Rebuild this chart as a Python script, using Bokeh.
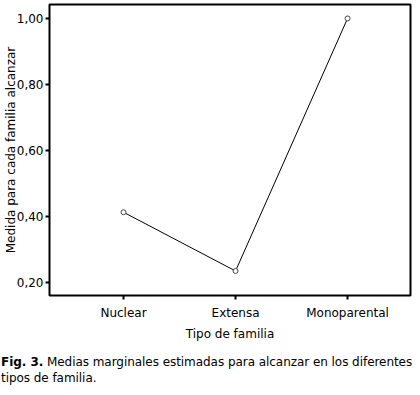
from bokeh.plotting import figure
from bokeh.models import FixedTicker, Range1d, Div
from bokeh.layouts import column
from bokeh.embed import file_html
from bokeh.resources import INLINE

categories = ["Nuclear", "Extensa", "Monoparental"]
means = [0.413, 0.235, 1.0]
y_ticks = [0.2, 0.4, 0.6, 0.8, 1.0]
y_tick_labels = ["0,20", "0,40", "0,60", "0,80", "1,00"]
x_label = "Tipo de familia"
y_label = "Medida para cada familia alcanzar"
caption_bold = "Fig. 3."
caption_line1 = "Medias marginales estimadas para alcanzar en los diferentes"
caption_line2 = "tipos de familia."

FONT = "DejaVu Sans"
xs = list(range(len(categories)))

p = figure(width=412, height=343, output_backend="svg", toolbar_location=None,
           x_range=Range1d(-0.661, 2.562), y_range=Range1d(0.1608, 1.0423),
           min_border_left=49, min_border_right=2, min_border_top=4, min_border_bottom=44)
p.grid.visible = False
p.background_fill_color = "white"
p.border_fill_color = "white"
p.outline_line_color = "black"
p.outline_line_width = 2

p.line(xs, means, line_color="black", line_width=1)
p.scatter(xs, means, size=5, fill_color="white", line_color="#444444", line_width=1)

for ax in (p.xaxis[0], p.yaxis[0]):
    ax.axis_line_color = None
    ax.major_tick_in = 0
    ax.major_tick_out = 4
    ax.major_tick_line_width = 2
    ax.minor_tick_line_color = None
    ax.major_label_text_font = FONT
    ax.major_label_text_font_size = "12px"
    ax.major_label_text_color = "black"
    ax.axis_label_text_font = FONT
    ax.axis_label_text_font_size = "12px"
    ax.axis_label_text_font_style = "normal"
    ax.axis_label_text_color = "black"

p.xaxis.ticker = FixedTicker(ticks=xs)
p.xaxis.major_label_overrides = {x: c for x, c in zip(xs, categories)}
p.xaxis.axis_label = x_label
p.xaxis.major_label_standoff = 6
p.xaxis.axis_label_standoff = 4

p.yaxis.ticker = FixedTicker(ticks=y_ticks)
p.yaxis.major_label_overrides = {t: l for t, l in zip(y_ticks, y_tick_labels)}
p.yaxis.axis_label = y_label
p.yaxis.major_label_standoff = 2
p.yaxis.axis_label_standoff = -4

caption_html = f"<b>{caption_bold}</b> {caption_line1}<br>{caption_line2}"
cap = Div(text=caption_html, width=412, margin=(0, 0, 0, 0),
          styles={"font-family": FONT, "font-size": "12px", "line-height": "16px",
                  "padding-top": "11px", "padding-left": "1px", "white-space": "nowrap",
                  "letter-spacing": "-0.05px", "color": "black"})

layout = column(p, cap, spacing=0)
open("out.html", "w").write(file_html(layout, INLINE))
